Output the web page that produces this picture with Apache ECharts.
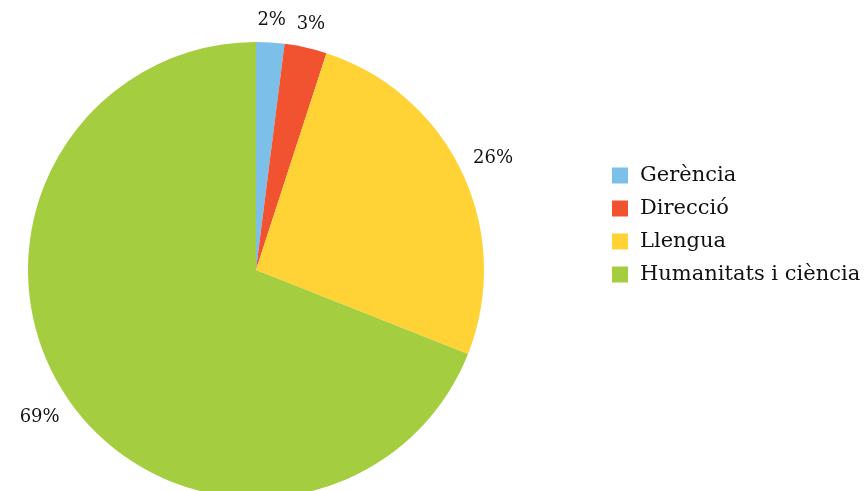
<!DOCTYPE html>
<html>
<head>
<meta charset="utf-8">
<script src="https://cdn.jsdelivr.net/npm/echarts@6/dist/echarts.min.js"></script>
<style>
  html, body { margin: 0; padding: 0; background: #ffffff; }
  #chart { width: 866px; height: 491px; }
</style>
</head>
<body>
<div id="chart"></div>
<script>
// Staff distribution by area (percent)
const categories = ['Gerència', 'Direcció', 'Llengua', 'Humanitats i ciència'];
const shares = [2, 3, 26, 69];
const colors = ['#7cbfe9', '#f1522f', '#ffd335', '#a5cd40'];

const chart = echarts.init(document.getElementById('chart'), null, { renderer: 'canvas' });

const fontFamily = '"DejaVu Serif", "Liberation Serif", serif';
const pieCenter = [256, 270];

chart.setOption({
  animation: false,
  backgroundColor: '#ffffff',
  color: colors,
  textStyle: { fontFamily: fontFamily },
  legend: {
    orient: 'vertical',
    left: 607,
    top: 160,
    itemWidth: 16,
    itemHeight: 16,
    itemGap: 12,
    icon: 'rect',
    data: categories,
    textStyle: { fontFamily: fontFamily, fontSize: 21, color: '#111111', padding: [0, 0, 0, 7] }
  },
  series: [{
    type: 'pie',
    center: pieCenter,
    radius: 228,
    startAngle: 90,
    clockwise: true,
    avoidLabelOverlap: false,
    data: categories.map((name, i) => ({ name: name, value: shares[i] })),
    label: {
      show: true,
      position: 'outside',
      formatter: '{c}%',
      fontFamily: fontFamily,
      fontSize: 18,
      color: '#111111'
    },
    labelLine: { show: false, length: 12, length2: 0 },
    // Put each label just beyond the rim, centred on the slice's mid direction
    labelLayout: function (p) {
      const pts = p.labelLinePoints;
      if (!pts) return {};
      const ex = pts[0][0], ey = pts[0][1];
      const dx = ex - pieCenter[0], dy = ey - pieCenter[1];
      const len = Math.hypot(dx, dy) || 1;
      const ux = dx / len, uy = dy / len;
      const w = p.labelRect.width, h = p.labelRect.height;
      const off = 12 + Math.abs(ux) * w / 2 + Math.abs(uy) * h / 2;
      return {
        x: ex + ux * off,
        y: ey + uy * off,
        align: 'center',
        verticalAlign: 'middle'
      };
    },
    itemStyle: { borderWidth: 0 },
    emphasis: { disabled: true }
  }]
});
</script>
</body>
</html>
